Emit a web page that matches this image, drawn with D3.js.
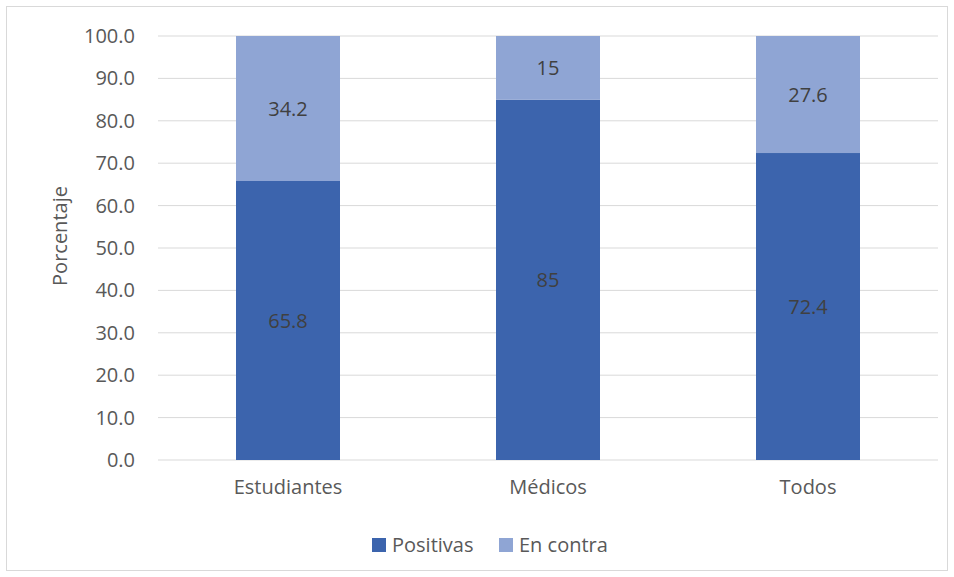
<!DOCTYPE html>
<html>
<head>
<meta charset="utf-8">
<script src="https://cdn.jsdelivr.net/npm/d3@7"></script>
<style>
  body { margin: 0; background: #fff; }
  text { font-family: "Open Sans", "Noto Sans", sans-serif; }
</style>
</head>
<body>
<script>
const categories = ["Estudiantes", "Médicos", "Todos"];
const positivas = [65.8, 85, 72.4];
const enContra = [34.2, 15, 27.6];
const seriesNames = ["Positivas", "En contra"];
const yTicks = [0, 10, 20, 30, 40, 50, 60, 70, 80, 90, 100];

const w = 954, h = 577;
const colors = ["#3C64AD", "#8FA5D4"];

const svg = d3.select("body").append("svg")
  .attr("width", w)
  .attr("height", h);

// chart frame
svg.append("rect")
  .attr("x", 6.5).attr("y", 6.5)
  .attr("width", 941).attr("height", 564)
  .attr("fill", "#fff")
  .attr("stroke", "#d9d9d9");

const x = d3.scaleBand()
  .domain(categories)
  .range([158, 938])
  .paddingInner(0.6)
  .paddingOuter(0.3);

const y = d3.scaleLinear()
  .domain([0, 100])
  .range([460, 36]);

// gridlines
svg.append("g")
  .selectAll("line")
  .data(yTicks)
  .enter()
  .append("line")
  .attr("x1", 158).attr("x2", 938)
  .attr("y1", d => y(d)).attr("y2", d => y(d))
  .attr("stroke", "#d9d9d9")
  .attr("stroke-width", 1);

// y axis labels
const yAxis = svg.append("g")
  .attr("transform", "translate(158,0)")
  .call(d3.axisLeft(y).tickValues(yTicks).tickFormat(d3.format(".1f")).tickSize(0).tickPadding(23));
yAxis.select(".domain").remove();
yAxis.selectAll("text")
  .attr("fill", "#595959")
  .style("font-size", "20px");

// x axis labels
const xAxis = svg.append("g")
  .attr("transform", "translate(0,460)")
  .call(d3.axisBottom(x).tickSize(0).tickPadding(20));
xAxis.select(".domain").remove();
xAxis.selectAll("text")
  .attr("fill", "#595959")
  .style("font-size", "20px");

// stacked data
const rows = categories.map((c, i) => ({ cat: c, Positivas: positivas[i], "En contra": enContra[i] }));
const stacked = d3.stack().keys(seriesNames)(rows);

const groups = svg.selectAll(".series")
  .data(stacked)
  .enter()
  .append("g")
  .attr("class", "series")
  .attr("fill", (d, i) => colors[i]);

groups.selectAll("rect")
  .data(d => d)
  .enter()
  .append("rect")
  .attr("x", d => x(d.data.cat))
  .attr("width", x.bandwidth())
  .attr("y", d => y(d[1]))
  .attr("height", d => y(d[0]) - y(d[1]));

// data labels
stacked.forEach((s, si) => {
  svg.append("g")
    .selectAll("text")
    .data(s)
    .enter()
    .append("text")
    .attr("x", d => x(d.data.cat) + x.bandwidth() / 2)
    .attr("y", d => y((d[0] + d[1]) / 2))
    .attr("dy", "0.35em")
    .attr("text-anchor", "middle")
    .attr("fill", "#404040")
    .style("font-size", "20px")
    .text(d => d.data[s.key]);
});

// y title
svg.append("text")
  .attr("transform", "translate(60,236) rotate(-90)")
  .attr("text-anchor", "middle")
  .attr("dy", "0.35em")
  .attr("fill", "#595959")
  .style("font-size", "20px")
  .text("Porcentaje");

// legend
const legendX = [372, 499];
const legend = svg.append("g");
seriesNames.forEach((n, i) => {
  legend.append("rect")
    .attr("x", legendX[i]).attr("y", 538)
    .attr("width", 14).attr("height", 14)
    .attr("fill", colors[i]);
  legend.append("text")
    .attr("x", legendX[i] + 20).attr("y", 545)
    .attr("dy", "0.35em")
    .attr("fill", "#595959")
    .style("font-size", "20px")
    .text(n);
});
</script>
</body>
</html>
